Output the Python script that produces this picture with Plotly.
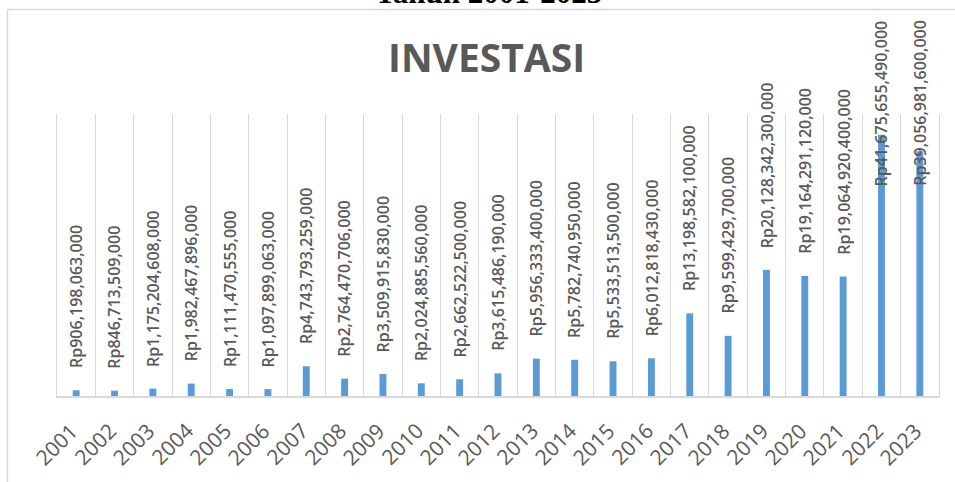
import plotly.graph_objects as go

# ---------------- data ----------------
years = [str(y) for y in range(2001, 2024)]
investasi = [
    906198063000, 846713509000, 1175204608000, 1982467896000, 1111470555000,
    1097899063000, 4743793259000, 2764470706000, 3509915830000, 2024885560000,
    2662522500000, 3615486190000, 5956333400000, 5782740950000, 5533513500000,
    6012818430000, 13198582100000, 9599429700000, 20128342300000, 19164291120000,
    19064920400000, 41675655490000, 39056981600000,
]
labels = ["Rp{:,}".format(v) for v in investasi]
chart_title = "INVESTASI"
doc_caption = "Tahun 2001-2023"
y_max = 45e12

# ---------------- layout constants ----------------
W, H = 955, 482
ML, MR, MT, MB = 57, 16, 114, 86
PLOT_H = H - MT - MB
GRAY = "#595959"
LINE = "#d9d9d9"
BLUE = "#5B9BD5"
LBL_SIZE = 16
LBL_GAP = 20
LBL_TOP_PX = 18
TICK_SIZE = 21


def px_to_paper_y(py):
    return (H - MB - py) / PLOT_H


def px_to_paper_x(px):
    return (px - ML) / (W - ML - MR)


fig = go.Figure(
    go.Bar(
        x=years,
        y=investasi,
        marker=dict(color=BLUE, line=dict(width=0)),
        hoverinfo="skip",
    )
)

annotations = []
for i, (v, t) in enumerate(zip(investasi, labels)):
    bar_top_px = H - MB - v / y_max * PLOT_H
    est_len = 0.54 * LBL_SIZE * len(t)
    common = dict(
        x=i, xref="x", text=t, textangle=-90, showarrow=False,
        font=dict(family="Open Sans", size=LBL_SIZE, color=GRAY, weight=600),
        xanchor="center",
    )
    if bar_top_px - LBL_GAP - est_len < LBL_TOP_PX:
        annotations.append(dict(**common, y=px_to_paper_y(LBL_TOP_PX), yref="paper", yanchor="top"))
    else:
        annotations.append(dict(**common, y=v, yref="y", yanchor="bottom", yshift=LBL_GAP))

# category (year) labels, rotated like the original
for i, yr in enumerate(years):
    annotations.append(dict(
        x=i, xref="x", y=0, yref="paper", text=yr, textangle=-45, showarrow=False,
        xanchor="right", yanchor="top", xshift=10, yshift=-18,
        font=dict(family="Open Sans", size=TICK_SIZE, color=GRAY),
    ))

# chart title
annotations.append(dict(
    text="<b>%s</b>" % chart_title, xref="paper", yref="paper",
    x=px_to_paper_x(486), y=px_to_paper_y(57), xanchor="center", yanchor="middle",
    showarrow=False, font=dict(family="Open Sans", size=39, color=GRAY),
))
# document caption, cut off at the top of the picture
annotations.append(dict(
    text="<b>%s</b>" % doc_caption, xref="paper", yref="paper",
    x=px_to_paper_x(488), y=px_to_paper_y(12.5), xanchor="center", yanchor="bottom",
    showarrow=False, font=dict(family="Liberation Serif", size=31, color="#000000"),
))

shapes = [
    # chart area border (top and left edges)
    dict(type="line", xref="paper", yref="paper",
         x0=px_to_paper_x(7.5), x1=px_to_paper_x(W + 5),
         y0=px_to_paper_y(9.5), y1=px_to_paper_y(9.5),
         line=dict(color=LINE, width=1.5)),
    dict(type="line", xref="paper", yref="paper",
         x0=px_to_paper_x(7.5), x1=px_to_paper_x(7.5),
         y0=px_to_paper_y(9.5), y1=px_to_paper_y(H + 5),
         line=dict(color=LINE, width=1.5)),
]

fig.update_layout(
    width=W, height=H,
    margin=dict(l=ML, r=MR, t=MT, b=MB, pad=0),
    paper_bgcolor="white", plot_bgcolor="white",
    bargap=0.82,
    showlegend=False,
    annotations=annotations,
    shapes=shapes,
    xaxis=dict(
        type="category", tickson="boundaries", showgrid=True,
        range=[-0.5, len(years) - 0.5], autorange=False,
        gridcolor=LINE, gridwidth=1, ticks="",
        showline=True, linecolor=LINE, linewidth=2,
        showticklabels=False,
        fixedrange=True,
    ),
    yaxis=dict(
        range=[0, y_max], autorange=False, showgrid=False, zeroline=False,
        showticklabels=False, ticks="",
        showline=True, mirror=True, linecolor=LINE, linewidth=1,
        fixedrange=True,
    ),
)

fig.write_html("out.html", config={"displayModeBar": False},
               post_script="document.body.style.margin='0';")
